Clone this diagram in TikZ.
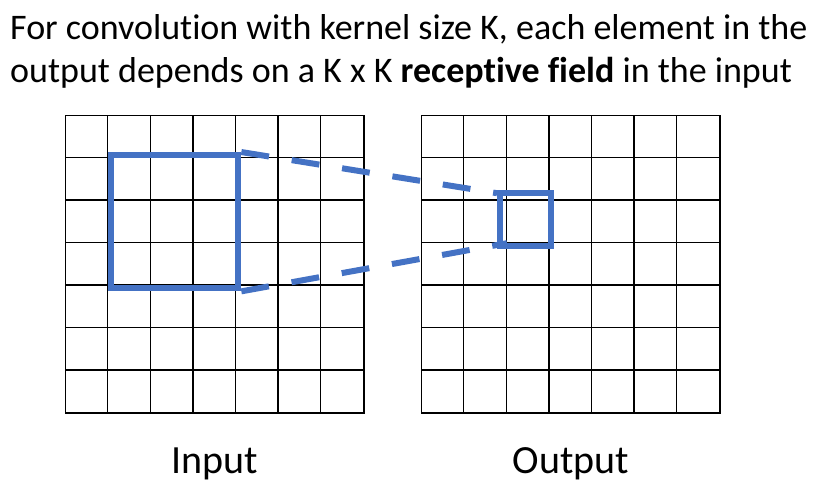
\documentclass[tikz,border=0pt]{standalone}
\usepackage{fontspec}
\setmainfont{Carlito}[Ligatures={NoCommon}]
\usetikzlibrary{calc}
\definecolor{rfblue}{HTML}{4472C4}
\begin{document}
\begin{tikzpicture}[x=1pt,y=-1pt,
  gridframe/.style={draw=black, line width=1.3pt, inner sep=0pt, minimum width=298.3pt, minimum height=297.3pt},
  gridline/.style={draw=black, line width=1.3pt},
  rfbox/.style={draw=rfblue, line width=6pt, inner sep=0pt},
  conn/.style={draw=rfblue, line width=6pt, dash pattern=on 28pt off 23pt},
  title/.style={anchor=base west, inner sep=0pt, font=\fontsize{36}{43}\selectfont},
  label/.style={anchor=base, inner sep=0pt, font=\fontsize{40}{48}\selectfont}]
\useasboundingbox (0,0) rectangle (823,502);
% title
\node[title] (t1) at (10,40) {For convolution with kernel size K, each element in the};
\node[title] (t2) at (10,83) {output depends on a K x K \textbf{receptive field} in the input};
% grids
\node[gridframe] (ingrid) at (214.85,264.35) {};
\node[gridframe] (outgrid) at (570.85,264.35) {};
\foreach \i in {1,...,6} {
  \draw[gridline] ($(ingrid.north west)+(\i*42.614,0)$) -- ($(ingrid.south west)+(\i*42.614,0)$);
  \draw[gridline] ($(ingrid.north west)+(0,\i*42.471)$) -- ($(ingrid.north east)+(0,\i*42.471)$);
  \draw[gridline] ($(outgrid.north west)+(\i*42.614,0)$) -- ($(outgrid.south west)+(\i*42.614,0)$);
  \draw[gridline] ($(outgrid.north west)+(0,\i*42.471)$) -- ($(outgrid.north east)+(0,\i*42.471)$);
}
% receptive field and output element
\node[rfbox, minimum width=127.3pt, minimum height=133.3pt] (rf) at (174.7,221.7) {};
\node[rfbox, minimum width=50.7pt, minimum height=53pt] (elem) at (525.35,219.2) {};
\coordinate (etop) at ($(elem.north west)+(0,3.5)$);
\coordinate (ebot) at ($(elem.south west)+(10,-5.5)$);
\draw[conn] (rf.north east) -- (etop);
\draw[conn] (rf.south east) -- (ebot);
% labels
\node[label] (lin) at (ingrid.south |- 0,473.3) {Input};
\node[label] (lout) at (outgrid.south |- 0,473.3) {Output};
\end{tikzpicture}
\end{document}
